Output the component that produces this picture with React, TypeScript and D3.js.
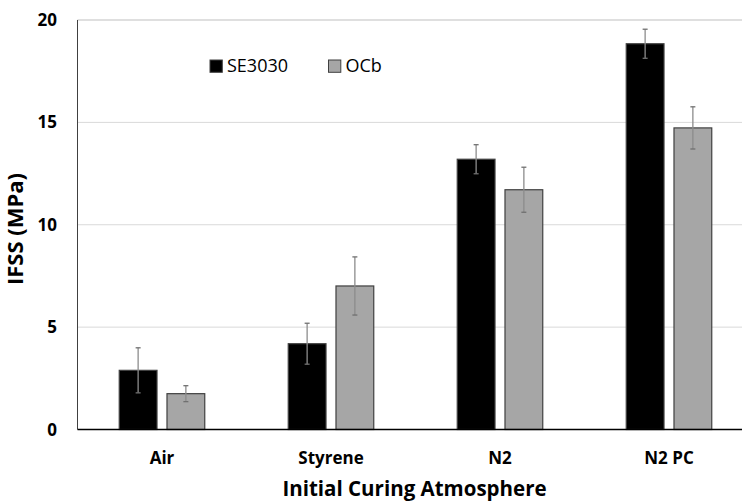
import React from "react";
import * as d3 from "d3";

const categories = ["Air", "Styrene", "N2", "N2 PC"];
const seriesNames = ["SE3030", "OCb"];
const se3030 = [2.89, 4.19, 13.2, 18.84];
const se3030Err = [1.1, 1.0, 0.71, 0.71];
const ocb = [1.75, 7.01, 11.71, 14.73];
const ocbErr = [0.39, 1.42, 1.1, 1.03];
const yTicks = [0, 5, 10, 15, 20];
const colors = ["#000000", "#a6a6a6"];

const W = 742;
const H = 502;
const font = "'Open Sans', Lato, 'Liberation Sans', sans-serif";

export default function App() {
  const left = 77.5;
  const top = 20;
  const bottom = 429.5;
  const step = 169;
  const right = left + step * categories.length;
  const y = d3.scaleLinear().domain([0, 20]).range([bottom, top]);
  const x0 = d3
    .scaleBand<string>()
    .domain(categories)
    .range([left, right])
    .paddingInner(0.494)
    .paddingOuter(0.247);
  const x1 = d3
    .scaleBand<string>()
    .domain(seriesNames)
    .range([0, x0.bandwidth()])
    .paddingInner(0.209)
    .paddingOuter(0);
  const series = [
    { name: seriesNames[0], values: se3030, errs: se3030Err },
    { name: seriesNames[1], values: ocb, errs: ocbErr },
  ];
  return (
    <svg
      width={W}
      height={H}
      style={{ position: "absolute", left: 0, top: 0, background: "#fff" }}
      fontFamily={font}
    >
      {yTicks.map((t) => (
        <g key={t}>
          {t > 0 && (
            <line
              x1={left}
              x2={W}
              y1={y(t)}
              y2={y(t)}
              stroke={t === 20 ? "#bfbfbf" : "#d9d9d9"}
              strokeWidth={1}
            />
          )}
          <text
            x={57}
            y={y(t)}
            dy="0.36em"
            textAnchor="end"
            fontSize={17}
            fontWeight="bold"
            fill="#000"
          >
            {t}
          </text>
        </g>
      ))}
      <line x1={left} x2={left} y1={top} y2={bottom} stroke="#404040" strokeWidth={1} />
      {series.map((s, si) =>
        categories.map((c, ci) => {
          const bx = (x0(c) ?? 0) + (x1(s.name) ?? 0);
          const bw = x1.bandwidth();
          const v = s.values[ci];
          const e = s.errs[ci];
          const cx = bx + bw / 2;
          return (
            <g key={s.name + c}>
              <rect
                x={bx}
                y={y(v)}
                width={bw}
                height={bottom - y(v)}
                fill={colors[si]}
                stroke="#404040"
                strokeWidth={1.2}
              />
              <line x1={cx} x2={cx} y1={y(v + e)} y2={y(v - e)} stroke="#8c8c8c" strokeWidth={1.3} />
              <line x1={cx - 2.5} x2={cx + 2.5} y1={y(v + e)} y2={y(v + e)} stroke="#707070" strokeWidth={1.3} />
              <line x1={cx - 2.5} x2={cx + 2.5} y1={y(v - e)} y2={y(v - e)} stroke="#707070" strokeWidth={1.3} />
            </g>
          );
        })
      )}
      <line x1={left} x2={W} y1={bottom} y2={bottom} stroke="#000" strokeWidth={1.5} />
      {categories.map((c) => (
        <text
          key={c}
          x={(x0(c) ?? 0) + x0.bandwidth() / 2}
          y={463.5}
          textAnchor="middle"
          fontSize={17}
          fontWeight="bold"
          fill="#000"
        >
          {c}
        </text>
      ))}
      <text
        x={414.5}
        y={496}
        textAnchor="middle"
        fontSize={20.5}
        fontWeight="bold"
        fill="#000"
      >
        Initial Curing Atmosphere
      </text>
      <text
        transform={`translate(23, 229) rotate(-90)`}
        textAnchor="middle"
        fontSize={22}
        fontWeight="bold"
        fill="#000"
      >
        IFSS (MPa)
      </text>
      {seriesNames.map((n, i) => (
        <g key={n} transform={`translate(${210 + i * 118.5}, 60)`}>
          <rect x={0} y={0} width={12.3} height={12.3} fill={colors[i]} stroke="#404040" strokeWidth={1} />
          <text x={17} y={12.3} fontSize={18} fill="#000">
            {n}
          </text>
        </g>
      ))}
    </svg>
  );
}
